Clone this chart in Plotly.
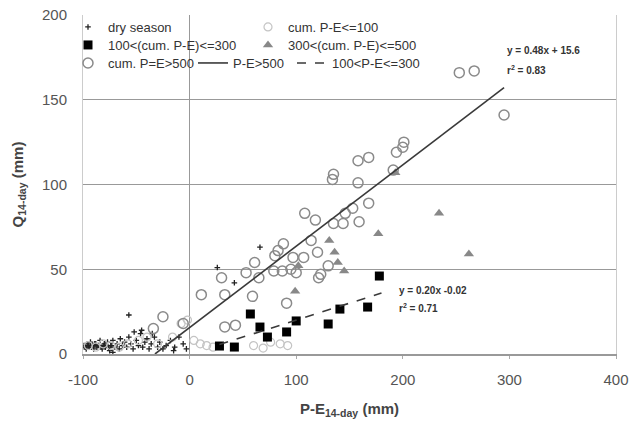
import plotly.graph_objects as go

# ---------------- data ----------------
dry_x = [-99, -97, -96, -94, -93, -91, -90, -88, -87, -85, -84, -82, -80, -79, -77, -75, -74, -72,
         -70, -68, -66, -65, -63, -61, -59, -57, -55, -53, -50, -48, -46, -44, -42, -40, -38, -36,
         -33, -30, -28, -25, -22, -18, -14, -10, -6, -3, -57, -72, -45, -35, 26, 42, 66, -15, -52,
         -98, -95, -92, -89, -86, -83, -81, -78, -76, -73]
dry_y = [5, 3, 6, 4, 7, 5, 3, 6, 4, 5, 8, 3, 6, 4, 7, 2, 5, 8,
         4, 6, 3, 9, 5, 7, 4, 10, 6, 3, 8, 5, 12, 4, 7, 9, 3, 6,
         10, 4, 7, 3, 5, 8, 4, 10, 6, 3, 23, 1, 14, 12, 51, 42, 63, 2, 13,
         4, 5, 4, 6, 5, 4, 5, 5, 4, 5]

low_x = [-95, -88, -81, -74, -66, -58, -48, -40, -30, -16, -8, -2, 4, 10, 16, 22, 60, 69, 76, 85, 92]
low_y = [5, 4, 6, 5, 4, 6, 8, 10, 6, 10, 18, 20, 8, 6, 5, 4, 5, 3.5, 7, 6, 5]

mid_x = [28, 42, 57, 66, 73, 91, 100, 130, 141, 167, 178]
mid_y = [4.7, 4.1, 23.6, 15.9, 10, 13, 19.5, 17.7, 26.5, 27.7, 46]

hi_x = [99, 102, 131, 136, 139, 145, 177, 193, 234, 262]
hi_y = [37, 52, 67, 60, 54, 49, 71, 107, 83, 59]

top_x = [-34, -25, -6, 11, 30, 33, 33, 43, 53, 59, 61, 65, 79, 80, 83, 87, 88, 91, 95, 97, 100,
         107, 108, 114, 118, 120, 121, 123, 130, 134, 135, 135, 144, 146, 153, 158, 158, 159,
         168, 168, 191, 194, 200, 201, 253, 267, 295]
top_y = [15, 22, 18, 35, 45, 35, 16, 17, 48, 34, 54, 45, 49, 58, 61, 49, 65, 30, 50, 57, 48,
         57, 83, 67, 79, 60, 45, 47, 52, 103, 106, 77, 77, 83, 86, 114, 101, 78,
         116, 89, 108.5, 119, 122, 125, 166, 167, 141]

# regression fits (from the chart)
fit_hi_slope, fit_hi_icpt = 0.48, 15.6
fit_hi_x = [-32.5, 295]
fit_mid_slope, fit_mid_icpt = 0.20, -0.02
fit_mid_x = [28, 180]

x_ticks = [-100, 0, 100, 200, 300, 400]
y_ticks = [0, 50, 100, 150, 200]

# ---------------- figure ----------------
fig = go.Figure()

fig.add_trace(go.Scatter(x=dry_x, y=dry_y, mode="markers", name="dry season",
                         marker=dict(symbol="cross-thin", size=4, color="#222",
                                     line=dict(color="#222", width=1.3)),
                         legend="legend", legendwidth=135))
fig.add_trace(go.Scatter(x=low_x, y=low_y, mode="markers", name="cum. P-E<=100",
                         marker=dict(symbol="circle-open", size=8, color="#c4c4c4",
                                     line=dict(width=1.2)),
                         legend="legend"))
fig.add_trace(go.Scatter(x=mid_x, y=mid_y, mode="markers", name="100<(cum. P-E)<=300",
                         marker=dict(symbol="square", size=9, color="#000"),
                         legend="legend2", legendwidth=135))
fig.add_trace(go.Scatter(x=hi_x, y=hi_y, mode="markers", name="300<(cum. P-E)<=500",
                         marker=dict(symbol="triangle-up", size=9, color="#888"),
                         legend="legend2"))
fig.add_trace(go.Scatter(x=top_x, y=top_y, mode="markers", name="cum. P=E>500",
                         marker=dict(symbol="circle-open", size=10, color="#8a8a8a",
                                     line=dict(width=1.5)),
                         legend="legend3", legendwidth=80))
fig.add_trace(go.Scatter(x=fit_hi_x, y=[fit_hi_slope * v + fit_hi_icpt for v in fit_hi_x],
                         mode="lines", name="P-E>500",
                         line=dict(color="#3a3a3a", width=1.6),
                         legend="legend3", legendwidth=54))
fig.add_trace(go.Scatter(x=fit_mid_x, y=[fit_mid_slope * v + fit_mid_icpt for v in fit_mid_x],
                         mode="lines", name="100<P-E<=300",
                         line=dict(color="#3a3a3a", width=1.6, dash="dash"),
                         legend="legend3"))

# plot area in pixels: x 83..616, y 15..354
def px_x(p):
    return (p - 83) / 533.0

def px_y(p):
    return (354 - p) / 339.0

W, H = 634, 424
leg_common = dict(orientation="h", xref="container", yref="container", xanchor="left",
                  yanchor="middle", bgcolor="rgba(0,0,0,0)",
                  font=dict(family="Liberation Sans, Arial, sans-serif", size=13, color="#333"),
                  tracegroupgap=0, itemsizing="trace")

fig.update_layout(
    width=W, height=H,
    margin=dict(l=83, r=18, t=15, b=70, autoexpand=False),
    paper_bgcolor="white", plot_bgcolor="white",
    font=dict(family="Liberation Sans, Arial, sans-serif", color="#555"),
    showlegend=True,
    legend=dict(x=68 / W, y=1 - 27 / H, **leg_common),
    legend2=dict(x=68 / W, y=1 - 45 / H, **leg_common),
    legend3=dict(x=68 / W, y=1 - 63 / H, **leg_common),
    xaxis=dict(range=[-100, 400], tickvals=x_ticks, ticktext=[str(v) for v in x_ticks],
               showgrid=False, zeroline=True, zerolinecolor="#999", zerolinewidth=1.2,
               showline=True, linecolor="#999", linewidth=1.5, mirror=False,
               ticks="outside", ticklen=3, tickcolor="#aaa",
               tickfont=dict(size=15, color="#555"), ticklabelstandoff=8,
               title=dict(text="<b>P-E<sub>14-day</sub> (mm)</b>", standoff=17,
                          font=dict(size=15, color="#444"))),
    yaxis=dict(range=[0, 200], tickvals=y_ticks, ticktext=[str(v) for v in y_ticks],
               showgrid=True, gridcolor="#999", gridwidth=1.3, zeroline=False,
               showline=True, linecolor="#ccc", linewidth=1, mirror=True,
               ticks="", tickfont=dict(size=15, color="#555"), ticklabelstandoff=12,
               title=dict(text="<b>Q<sub>14-day</sub> (mm)</b>", standoff=14,
                          font=dict(size=15, color="#444"))),
)

ann_font = dict(family="Liberation Sans, Arial, sans-serif", size=10, color="#333")
fig.add_annotation(x=px_x(505), y=px_y(43), xref="paper", yref="paper",
                   text="<b>y = 0.48x + 15.6</b>", showarrow=False, xanchor="left", font=ann_font)
fig.add_annotation(x=px_x(505), y=px_y(62), xref="paper", yref="paper",
                   text="<b>r<sup>2</sup> = 0.83</b>", showarrow=False, xanchor="left", font=ann_font)
fig.add_annotation(x=195, y=37.5, xref="x", yref="y",
                   text="<b>y = 0.20x -0.02</b>", showarrow=False, xanchor="left", font=ann_font)
fig.add_annotation(x=195, y=27, xref="x", yref="y",
                   text="<b>r<sup>2</sup> = 0.71</b>", showarrow=False, xanchor="left", font=ann_font)

fig.write_html("out.html", config={"displayModeBar": False},
               post_script="document.body.style.margin='0';")
